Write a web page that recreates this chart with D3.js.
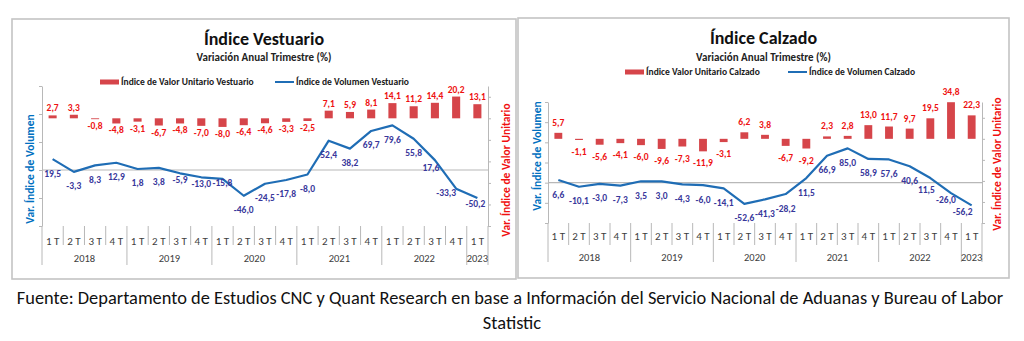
<!DOCTYPE html>
<html>
<head>
<meta charset="utf-8">
<script src="https://cdn.jsdelivr.net/npm/d3@7"></script>
<style>
body { margin: 0; background: #fff; }
svg { display: block; font-family: Carlito, Calibri, Lato, sans-serif; }
</style>
</head>
<body>
<div class="chart-container"></div>
<script>
// quarters 2018 1T .. 2023 1T
const quarterLabels = ['1 T','2 T','3 T','4 T','1 T','2 T','3 T','4 T','1 T','2 T','3 T','4 T',
                       '1 T','2 T','3 T','4 T','1 T','2 T','3 T','4 T','1 T'];
const years = ['2018','2019','2020','2021','2022','2023'];
const quartersInYear = [4, 4, 4, 4, 4, 1];

// vestuario: % anual
const vestuarioValor = [2.7, 3.3, -0.8, -4.8, -3.1, -6.7, -4.8, -7.0, -8.0, -6.4, -4.6, -3.3, -2.5,
                        7.1, 5.9, 8.1, 14.1, 11.2, 14.4, 20.2, 13.1];
const vestuarioVolumen = [19.5, -3.3, 8.3, 12.9, 1.8, 3.8, -5.9, -13.0, -15.8, -46.0, -24.5, -17.8, -8.0,
                          52.4, 38.2, 69.7, 79.6, 55.8, 17.6, -33.3, -50.2];

// calzado: % anual
const calzadoValor = [5.7, -1.1, -5.6, -4.1, -6.0, -9.6, -7.3, -11.9, -3.1, 6.2, 3.8, -6.7, -9.2,
                      2.3, 2.8, 13.0, 11.7, 9.7, 19.5, 34.8, 22.3];
const calzadoVolumen = [6.6, -10.1, -3.0, -7.3, 3.5, 3.0, -4.3, -6.0, -14.1, -52.6, -41.3, -28.2, 11.5,
                        66.9, 85.0, 58.9, 57.6, 40.6, 11.5, -26.0, -56.2];

// axis ranges
const vestuarioVolDomain = [-100, 150];
const vestuarioVolTicks = [-100, -50, 0, 50, 100, 150];
const vestuarioValorDomain = [-100, 30];
const vestuarioValorTicks = [-100, -80, -60, -40, -20, 0, 20];
const calzadoVolDomain = [-100, 200];
const calzadoVolTicks = [-100, -50, 0, 50, 100, 150, 200];
const calzadoValorDomain = [-80, 35];
const calzadoValorTicks = [-80, -60, -40, -20, 0, 20];

const esLocale = d3.formatLocale({decimal: ',', thousands: '.', grouping: [3], currency: ['', ''], minus: '-'});
const fmt = esLocale.format('.1f');

const BAR_COLOR = '#d6454a';
const LINE_COLOR = '#1f6db5';
const BAR_LABEL = '#ee1111';
const LINE_LABEL = '#38379b';
const AXIS_COLOR = '#b8b8b8';

const svg = d3.select('.chart-container')
              .append('svg')
              .attr('width', 1024)
              .attr('height', 341);

svg.append('rect').attr('width', 1024).attr('height', 341).attr('fill', '#fff');

function setupChart(cfg){
    const g = svg.append('g').attr('class', 'panel');

    g.append('rect')
     .attr('x', cfg.box[0]).attr('y', cfg.box[1])
     .attr('width', cfg.box[2] - cfg.box[0]).attr('height', cfg.box[3] - cfg.box[1])
     .attr('fill', 'none').attr('stroke', '#c4c4c4').attr('stroke-width', 1.6);

    const cx = (cfg.box[0] + cfg.box[2]) / 2;
    g.append('text').attr('x', cx).attr('y', cfg.titleY)
     .attr('text-anchor', 'middle').attr('dominant-baseline', 'central')
     .style('font-size', '18px').style('font-weight', 'bold').style('fill', '#111')
     .text(cfg.title);
    g.append('text').attr('x', cx).attr('y', cfg.subtitleY)
     .attr('text-anchor', 'middle').attr('dominant-baseline', 'central')
     .style('font-size', '11px').style('font-weight', 'bold').style('fill', '#222')
     .text('Variación Anual Trimestre  (%)');

    // legend
    const lg = g.append('g').attr('class', 'legend');
    lg.append('rect').attr('x', cfg.legendBarX).attr('y', cfg.legendY - 2.5)
      .attr('width', 19).attr('height', 5).attr('fill', BAR_COLOR);
    lg.append('text').attr('x', cfg.legendBarX + 21).attr('y', cfg.legendY)
      .attr('dominant-baseline', 'central')
      .style('font-size', '9.5px').style('font-weight', 'bold').style('fill', '#1a1a1a')
      .text(cfg.barName);
    lg.append('line').attr('x1', cfg.legendLineX).attr('x2', cfg.legendLineX + 19)
      .attr('y1', cfg.legendY).attr('y2', cfg.legendY)
      .attr('stroke', LINE_COLOR).attr('stroke-width', 2);
    lg.append('text').attr('x', cfg.legendLineX + 21).attr('y', cfg.legendY)
      .attr('dominant-baseline', 'central')
      .style('font-size', '9.5px').style('font-weight', 'bold').style('fill', '#1a1a1a')
      .text(cfg.lineName);

    const [x0, x1, yTop, yBottom] = cfg.plot;
    const xScale = d3.scaleBand().domain(d3.range(quarterLabels.length)).range([x0, x1]);
    const bw = xScale.bandwidth();
    const xc = i => xScale(i) + bw / 2;
    const yVol = d3.scaleLinear().domain(cfg.volDomain).range([yBottom, yTop]);
    const yVal = d3.scaleLinear().domain(cfg.valorDomain).range([yBottom, yTop]);

    // bars
    const barW = bw * 0.38;
    g.append('g').attr('class', 'bars')
     .selectAll('rect').data(cfg.valor).join('rect')
     .attr('x', (d, i) => xc(i) - barW / 2)
     .attr('y', d => yVal(Math.max(0, d)))
     .attr('width', barW)
     .attr('height', d => Math.abs(yVal(d) - yVal(0)))
     .attr('fill', BAR_COLOR);

    // zero line of the volume axis
    g.append('line').attr('x1', x0).attr('x2', x1)
     .attr('y1', yVol(0)).attr('y2', yVol(0))
     .attr('stroke', AXIS_COLOR).attr('stroke-width', 1.2);

    const yAxisL = d3.axisLeft(yVol).tickValues(cfg.volTicks).tickSizeInner(3).tickSizeOuter(0).tickFormat('');
    const yAxisR = d3.axisRight(yVal).tickValues(cfg.valorTicks).tickSizeInner(3).tickSizeOuter(0).tickFormat('');
    g.append('g').attr('transform', `translate(${x0},0)`).call(yAxisL)
     .call(a => a.selectAll('path, line').attr('stroke', AXIS_COLOR));
    g.append('g').attr('transform', `translate(${x1},0)`).call(yAxisR)
     .call(a => a.selectAll('path, line').attr('stroke', AXIS_COLOR));

    // category separators and labels
    const yearStarts = [0];
    quartersInYear.forEach((n, k) => yearStarts.push(yearStarts[k] + n));
    const sep = g.append('g').attr('class', 'xaxis');
    d3.range(quarterLabels.length + 1).forEach(i => {
        const isYear = yearStarts.includes(i);
        sep.append('line')
           .attr('x1', x0 + i * bw).attr('x2', x0 + i * bw)
           .attr('y1', yBottom).attr('y2', isYear ? cfg.sepLong : cfg.sepShort)
           .attr('stroke', AXIS_COLOR).attr('stroke-width', 1);
    });
    sep.selectAll('.q-label').data(quarterLabels).join('text')
       .attr('class', 'q-label')
       .attr('x', (d, i) => xc(i)).attr('y', cfg.quarterY)
       .attr('text-anchor', 'middle').attr('dominant-baseline', 'central')
       .style('font-size', '11px').style('fill', '#404040')
       .text(d => d);
    sep.selectAll('.y-label').data(years).join('text')
       .attr('class', 'y-label')
       .attr('x', (d, k) => x0 + (yearStarts[k] + quartersInYear[k] / 2) * bw)
       .attr('y', cfg.yearY)
       .attr('text-anchor', 'middle').attr('dominant-baseline', 'central')
       .style('font-size', '10.5px').style('fill', '#404040')
       .text(d => d);

    // volume line
    const lineGen = d3.line().x((d, i) => xc(i)).y(d => yVol(d));
    g.append('path').datum(cfg.volumen)
     .attr('d', lineGen)
     .attr('fill', 'none').attr('stroke', LINE_COLOR)
     .attr('stroke-width', 2.2).attr('stroke-linejoin', 'round');

    // bar labels
    g.append('g').selectAll('text').data(cfg.valor).join('text')
     .attr('x', (d, i) => xc(i))
     .attr('y', d => d >= 0 ? yVal(d) - cfg.barGap[0] : yVal(d) + cfg.barGap[1])
     .attr('text-anchor', 'middle').attr('dominant-baseline', 'central')
     .style('font-size', '9.5px').style('font-weight', 'bold').style('fill', BAR_LABEL)
     .text(d => fmt(d));

    // volume labels, under each point
    g.append('g').selectAll('text').data(cfg.volumen).join('text')
     .attr('x', (d, i) => xc(i) + (cfg.nudge[i] ? cfg.nudge[i][0] : 0))
     .attr('y', (d, i) => yVol(d) + 14.5 + (cfg.nudge[i] ? cfg.nudge[i][1] : 0))
     .attr('text-anchor', 'middle').attr('dominant-baseline', 'central')
     .style('font-size', '9.5px').style('font-weight', 'bold').style('fill', LINE_LABEL)
     .text(d => fmt(d));

    // axis titles
    g.append('text')
     .attr('transform', `translate(${cfg.volTitle[0]},${cfg.volTitle[1]}) rotate(-90)`)
     .attr('text-anchor', 'middle').attr('dominant-baseline', 'central')
     .style('font-size', '11.5px').style('font-weight', 'bold').style('fill', '#0070c0')
     .text('Var. Índice de Volumen');
    g.append('text')
     .attr('transform', `translate(${cfg.valTitle[0]},${cfg.valTitle[1]}) rotate(-90)`)
     .attr('text-anchor', 'middle').attr('dominant-baseline', 'central')
     .style('font-size', '11.5px').style('font-weight', 'bold').style('fill', '#f01010')
     .text('Var. Índice de Valor Unitario');
}

setupChart({
    box: [12, 19, 516, 279],
    title: 'Índice Vestuario',
    titleY: 39, subtitleY: 57,
    legendY: 82, legendBarX: 100, legendLineX: 275,
    barName: 'Índice de Valor Unitario Vestuario',
    lineName: 'Índice de Volumen Vestuario',
    plot: [42, 488, 86, 226],
    volDomain: vestuarioVolDomain, volTicks: vestuarioVolTicks,
    valorDomain: vestuarioValorDomain, valorTicks: vestuarioValorTicks,
    valor: vestuarioValor, volumen: vestuarioVolumen,
    barGap: [7, 7],
    nudge: {6: [0, -8], 7: [0, -8], 8: [0, -10], 18: [-4, -7], 19: [-10, -10], 20: [-2, -9]},
    quarterY: 241, yearY: 258, sepShort: 245, sepLong: 265,
    volTitle: [30, 169], valTitle: [506, 170]
});

setupChart({
    box: [518, 18, 1009, 278],
    title: 'Índice Calzado',
    titleY: 38, subtitleY: 57,
    legendY: 72, legendBarX: 625, legendLineX: 788,
    barName: 'Índice Valor Unitario Calzado',
    lineName: 'Índice de Volumen Calzado',
    plot: [548, 982, 102, 223],
    volDomain: calzadoVolDomain, volTicks: calzadoVolTicks,
    valorDomain: calzadoValorDomain, valorTicks: calzadoValorTicks,
    valor: calzadoValor, volumen: calzadoVolumen,
    barGap: [10, 12],
    nudge: {18: [-4, -3], 19: [-5, -8], 20: [-9, -8]},
    quarterY: 236, yearY: 257, sepShort: 245, sepLong: 262,
    volTitle: [537, 156], valTitle: [997, 164]
});

// source note
svg.append('text').attr('x', 510).attr('y', 297)
   .attr('text-anchor', 'middle').attr('dominant-baseline', 'central')
   .style('font-size', '18.4px').style('fill', '#111')
   .text('Fuente: Departamento de Estudios CNC y Quant Research en base a Información del Servicio Nacional de Aduanas y Bureau of Labor');
svg.append('text').attr('x', 512).attr('y', 322)
   .attr('text-anchor', 'middle').attr('dominant-baseline', 'central')
   .style('font-size', '18.4px').style('fill', '#111')
   .text('Statistic');
</script>
</body>
</html>
